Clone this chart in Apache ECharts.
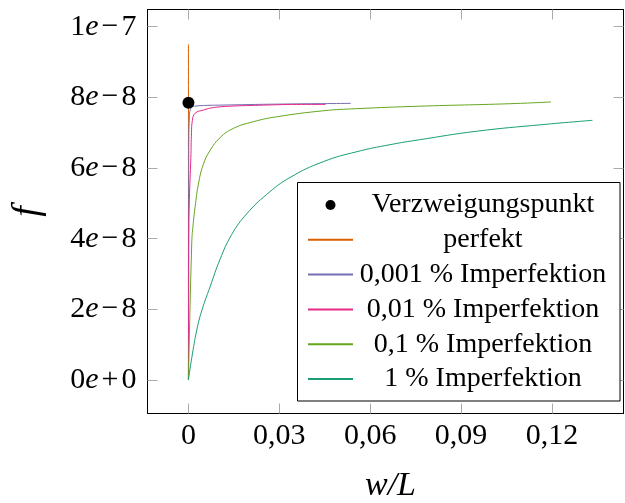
<html>
<head>
<meta charset="utf-8">
<script src="https://cdn.jsdelivr.net/npm/echarts@6/dist/echarts.min.js"></script>
<style>
  body { margin: 0; background: #fff; }
  #chart-main { width: 625px; height: 503px; }
</style>
</head>
<body>
<div id="chart-main"></div>

<script type="text/javascript">
	// Werte
	var xTicks = [0, 0.03, 0.06, 0.09, 0.12];
	var yTicks = [0, 2e-8, 4e-8, 6e-8, 8e-8, 1e-7];

	var namen = ['Verzweigungspunkt', 'perfekt', '0,001 % Imperfektion', '0,01 % Imperfektion', '0,1 % Imperfektion', '1 % Imperfektion'];
	var farben = ['#000000', '#d95f02', '#7570b3', '#e7298a', '#66a61e', '#1b9e77'];

	var wPunkt = [0];
	var fPunkt = [7.85e-8];

	var wPerfekt = [0, 0];
	var fPerfekt = [0, 9.5e-8];

	var wImp0001 = [0, 0.00005, 0.0001, 0.0003, 0.0006, 0.0012, 0.002, 0.005, 0.01, 0.03, 0.0536];
	var fImp0001 = [0, 3.5e-8, 6.5e-8, 7.45e-8, 7.65e-8, 7.73e-8, 7.75e-8, 7.77e-8, 7.78e-8, 7.81e-8, 7.83e-8];

	var wImp001 = [0, 0.00005, 0.0001, 0.0003, 0.0008, 0.001, 0.0013, 0.0022, 0.0049, 0.0082, 0.0137, 0.0247, 0.0357, 0.0453];
	var fImp001 = [0, 2e-8, 4e-8, 5.1e-8, 6.3e-8, 7.0e-8, 7.35e-8, 7.55e-8, 7.64e-8, 7.71e-8, 7.75e-8, 7.78e-8, 7.8e-8, 7.8e-8];

	var wImp01 = [0, 0.0011, 0.0016, 0.0022, 0.0033, 0.0049, 0.00715, 0.01045, 0.0148, 0.0214, 0.0291, 0.0445, 0.0555, 0.0763, 0.106, 0.1197];
	var fImp01 = [0, 3.9e-8, 4.45e-8, 4.9e-8, 5.55e-8, 6.1e-8, 6.5e-8, 6.86e-8, 7.12e-8, 7.31e-8, 7.45e-8, 7.62e-8, 7.68e-8, 7.75e-8, 7.82e-8, 7.87e-8];

	var wImp1 = [0, 0.00112, 0.00277, 0.00442, 0.00715, 0.01045, 0.0143, 0.0192, 0.0258, 0.0335, 0.0445, 0.0555, 0.0665, 0.0763, 0.095, 0.117, 0.1334];
	var fImp1 = [0, 0.64e-8, 1.42e-8, 1.97e-8, 2.64e-8, 3.42e-8, 4.12e-8, 4.7e-8, 5.25e-8, 5.73e-8, 6.18e-8, 6.46e-8, 6.66e-8, 6.8e-8, 7.04e-8, 7.23e-8, 7.35e-8];

	function paare(xs, ys) {
		return xs.map(function (x, i) { return [x, ys[i]]; });
	}

	var schrift = 'Liberation Serif';

	function yLabel(v) {
		if (v === 0) return '{n|0}{i|e}{m|+}{n|0}';
		var exp = Math.floor(Math.log10(v) + 1e-9);
		var man = Math.round(v / Math.pow(10, exp));
		return '{n|' + man + '}{i|e}{m|\u2212}{n|' + (-exp) + '}';
	}

	var myChart = echarts.init(document.getElementById('chart-main'));

	var achseBasis = {
		type: 'value',
		splitLine: { show: false },
		axisLine: { show: true, onZero: false, lineStyle: { color: '#000', width: 1 } },
		axisTick: { show: true, inside: true, length: 10, lineStyle: { color: '#aaaaaa', width: 1 } }
	};

	function linie(i, xs, ys) {
		return {
			name: namen[i], type: 'line', symbol: 'none', smooth: 0.45, data: paare(xs, ys),
			lineStyle: { color: farben[i], width: 1 }, itemStyle: { color: farben[i] }
		};
	}

	var option = {
		animation: false,
		backgroundColor: '#fff',
		grid: { left: 147.5, top: 9.5, right: 1.5, bottom: 89.5, outerBoundsMode: 'none', containLabel: false },
		xAxis: [
			Object.assign({}, achseBasis, {
				position: 'bottom',
				min: -0.01352, max: 0.14364,
				axisTick: Object.assign({}, achseBasis.axisTick, { customValues: xTicks }),
				axisLabel: {
					customValues: xTicks,
					margin: 8,
					fontFamily: schrift, fontSize: 30, color: '#000',
					formatter: function (v) { return v === 0 ? '0' : v.toFixed(2).replace('.', ','); }
				},
				name: 'w/L',
				nameLocation: 'middle',
				nameGap: 56,
				nameTextStyle: { fontFamily: schrift, fontStyle: 'italic', fontSize: 34, color: '#000', padding: [0, 0, 0, 10] }
			}),
			Object.assign({}, achseBasis, {
				position: 'top',
				min: -0.01352, max: 0.14364,
				axisTick: Object.assign({}, achseBasis.axisTick, { customValues: xTicks }),
				axisLabel: { show: false }
			})
		],
		yAxis: [
			Object.assign({}, achseBasis, {
				position: 'left',
				min: -9.48e-9, max: 1.0487e-7,
				axisTick: Object.assign({}, achseBasis.axisTick, { customValues: yTicks }),
				axisLabel: {
					customValues: yTicks,
					margin: 11,
					formatter: yLabel,
					rich: {
						n: { fontFamily: schrift, fontSize: 30, color: '#000' },
						i: { fontFamily: schrift, fontSize: 30, fontStyle: 'italic', color: '#000' },
						m: { fontFamily: schrift, fontSize: 30, color: '#000', padding: [0, 3, 0, 3] }
					}
				},
				name: 'f',
				nameLocation: 'middle',
				nameGap: 100,
				nameTextStyle: { fontFamily: schrift, fontStyle: 'italic', fontSize: 38, color: '#000' }
			}),
			Object.assign({}, achseBasis, {
				position: 'right',
				min: -9.48e-9, max: 1.0487e-7,
				axisTick: Object.assign({}, achseBasis.axisTick, { customValues: yTicks }),
				axisLabel: { show: false }
			})
		],
		legend: {
			orient: 'vertical',
			left: 297.5,
			top: 182.5,
			padding: [8.5, 12, 8, 9.5],
			itemGap: 6.8,
			itemWidth: 45,
			itemHeight: 10,
			itemTextGap: 5,
			borderColor: '#000',
			borderWidth: 1,
			backgroundColor: '#fff',
			data: namen.map(function (n, i) {
				return i === 0 ? { name: n } : { name: n, itemStyle: { opacity: 0 } };
			}),
			formatter: function (name) { return '{t|' + name + '}'; },
			textStyle: {
				rich: {
					t: { fontFamily: schrift, fontSize: 28, color: '#000', width: 250, align: 'center', lineHeight: 30 }
				}
			}
		},
		series: [
			linie(1, wPerfekt, fPerfekt),
			linie(2, wImp0001, fImp0001),
			linie(3, wImp001, fImp001),
			linie(4, wImp01, fImp01),
			linie(5, wImp1, fImp1),
			{
				name: namen[0], type: 'scatter', symbol: 'circle', symbolSize: 12, z: 10,
				data: paare(wPunkt, fPunkt),
				itemStyle: { color: farben[0], opacity: 1 }
			}
		]
	};

	myChart.setOption(option);
</script>
</body>
</html>
